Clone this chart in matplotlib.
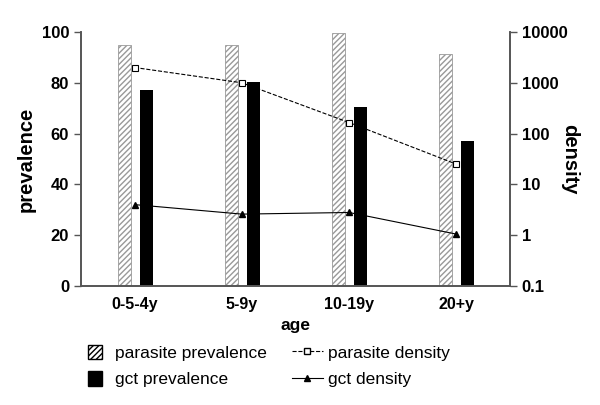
import numpy as np
import matplotlib.pyplot as plt
from matplotlib.patches import Patch
from matplotlib.lines import Line2D

plt.rcParams['font.family'] = ['Liberation Sans', 'DejaVu Sans']

ages = ['0-5-4y', '5-9y', '10-19y', '20+y']
parasite_prev = [95, 95, 99.5, 91.5]
gct_prev = [77, 80.5, 70.5, 57]
parasite_dens = [2000, 1000, 165, 25]
gct_dens = [4.0, 2.6, 2.8, 1.05]

x = np.arange(len(ages))
w = 0.12

fig = plt.figure(figsize=(6, 4.05), dpi=100)
ax = fig.add_axes([81 / 600, 1 - 286 / 405, 429 / 600, 254 / 405])

ax.bar(x - 0.098, parasite_prev, w, color='white', edgecolor='#999999',
       hatch='//////', linewidth=0.6)
ax.bar(x + 0.107, gct_prev, w, color='black')
ax.set_xlim(-0.5, 3.5)
ax.set_ylim(0, 100)
ax.set_yticks([0, 20, 40, 60, 80, 100])
ax.set_xticks(x)
ax.set_xticklabels(ages, fontweight='bold', fontsize=11.5)
ax.tick_params(axis='x', length=0, pad=8)
ax.tick_params(axis='y', labelsize=12, length=5, width=1, color='#555555')
for lab in ax.get_yticklabels():
    lab.set_fontweight('bold')
ax.set_ylabel('prevalence', fontsize=14.5, fontweight='bold', labelpad=4)
ax.set_xlabel('age', fontsize=12.5, fontweight='bold', labelpad=4)
ax.spines['top'].set_visible(False)
for s in ['left', 'bottom', 'right']:
    ax.spines[s].set_color('#555555')
    ax.spines[s].set_linewidth(1.2)

ax2 = ax.twinx()
ax2.set_yscale('log')
ax2.plot(x, parasite_dens, '--', color='black', linewidth=0.8,
         marker='s', markersize=5, markerfacecolor='white',
         markeredgecolor='black', markeredgewidth=0.8)
ax2.plot(x, gct_dens, '-', color='black', linewidth=0.8,
         marker='^', markersize=5, markerfacecolor='black')
ax2.set_ylim(0.1, 10000)
ax2.set_yticks([0.1, 1, 10, 100, 1000, 10000])
ax2.set_yticklabels(['0.1', '1', '10', '100', '1000', '10000'],
                    fontweight='bold', fontsize=12)
ax2.minorticks_off()
ax2.tick_params(axis='y', length=5, width=1, color='#555555')
ax2.set_ylabel('density', fontsize=14.5, fontweight='bold', rotation=270,
               labelpad=8)
ax2.spines['top'].set_visible(False)
for s in ['left', 'bottom', 'right']:
    ax2.spines[s].set_color('#555555')
    ax2.spines[s].set_linewidth(1.2)

bar_handles = [
    Patch(facecolor='white', edgecolor='black', hatch='//////'),
    Patch(facecolor='black', edgecolor='black'),
]
line_handles = [
    Line2D([], [], linestyle='--', color='black', linewidth=0.8, marker='s',
           markersize=4, markerfacecolor='white', markeredgecolor='black'),
    Line2D([], [], linestyle='-', color='black', linewidth=0.8, marker='^',
           markersize=5, markerfacecolor='black'),
]
leg_kw = dict(loc='upper left', frameon=False, fontsize=12.5,
              handleheight=0.9, labelspacing=0.6)
fig.legend(bar_handles, ['parasite prevalence', 'gct prevalence'],
           bbox_to_anchor=(72 / 600, 1 - 329 / 405), handlelength=0.8,
           handletextpad=0.8, **leg_kw)
fig.legend(line_handles, ['parasite density', 'gct density'],
           bbox_to_anchor=(276 / 600, 1 - 329 / 405), handlelength=1.8,
           handletextpad=0.3, **leg_kw)

fig.savefig('out.png', dpi=100)
